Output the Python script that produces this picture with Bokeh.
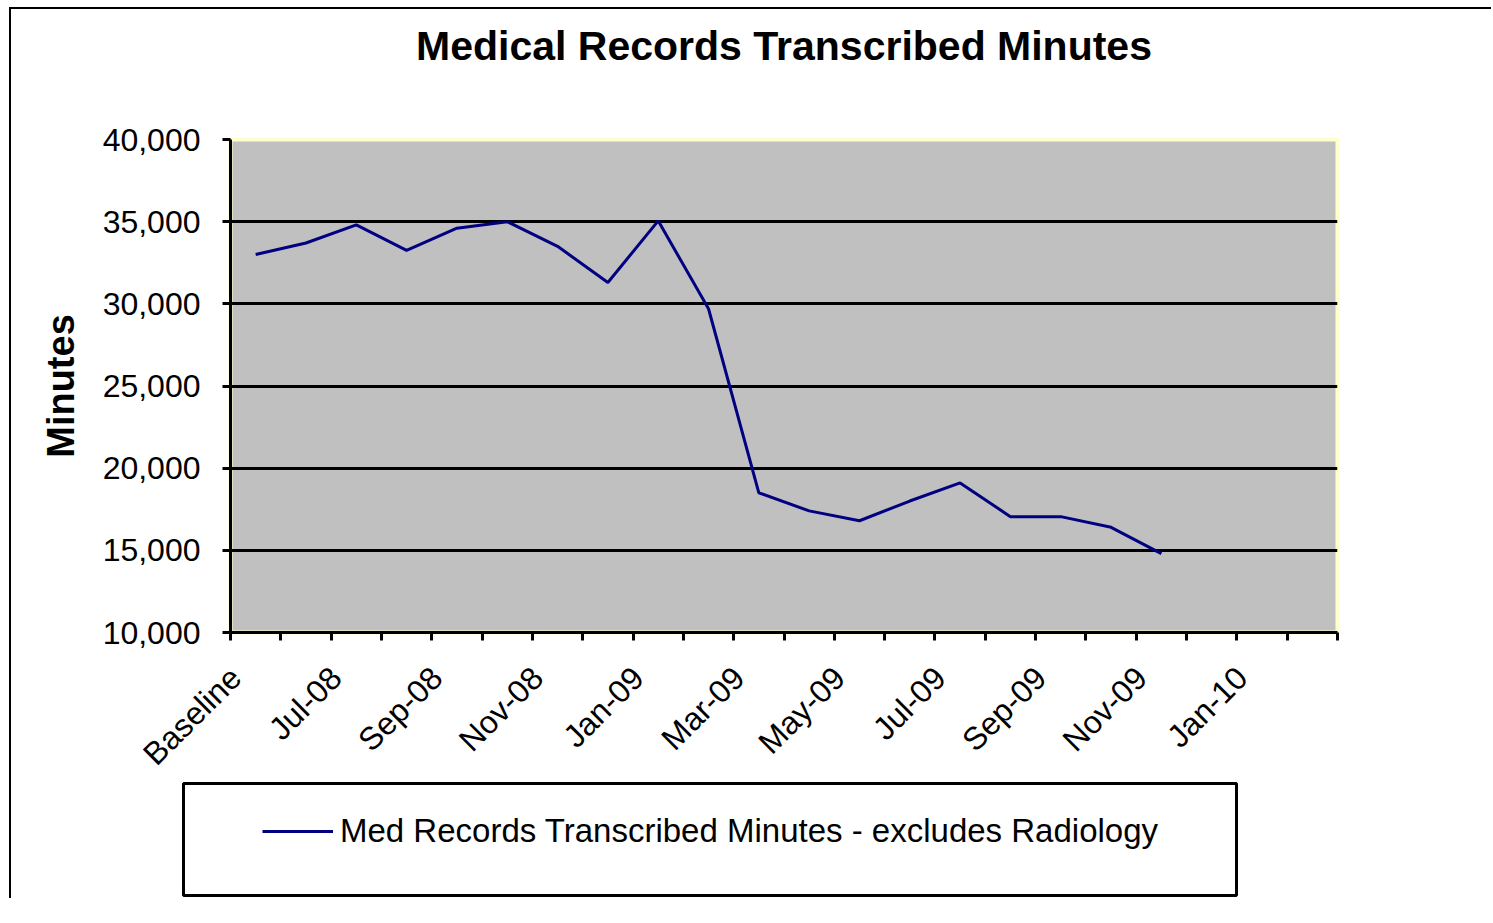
import math
from bokeh.plotting import figure
from bokeh.layouts import column
from bokeh.models import (Range1d, FixedTicker, Legend, LegendItem, NumeralTickFormatter,
                          LinearAxis, ColumnDataSource)
from bokeh.embed import file_html
from bokeh.resources import INLINE

# ---------------- data ----------------
categories = ["Baseline", "Jun-08", "Jul-08", "Aug-08", "Sep-08", "Oct-08", "Nov-08",
              "Dec-08", "Jan-09", "Feb-09", "Mar-09", "Apr-09", "May-09", "Jun-09",
              "Jul-09", "Aug-09", "Sep-09", "Oct-09", "Nov-09", "Dec-09", "Jan-10",
              "Feb-10"]
minutes = [33000, 33700, 34800, 33250, 34600, 35000, 33500, 31300, 35050, 29700,
           18500, 17400, 16800, 18000, 19100, 17050, 17050, 16400, 14800]
y_ticks = [10000, 15000, 20000, 25000, 30000, 35000, 40000]
title_text = "Medical Records Transcribed Minutes"
series_name = "Med Records Transcribed Minutes - excludes Radiology"
y_title = "Minutes"

FONT = "Liberation Sans"
LINE_COLOR = "#000080"
W, H1, H2 = 1480, 785, 118

src = ColumnDataSource(data=dict(x=list(range(len(minutes))), y=minutes))

# ---------------- main chart ----------------
p = figure(width=W, height=H1, output_backend="svg", toolbar_location=None,
           x_range=Range1d(-0.5, len(categories) - 0.5),
           y_range=Range1d(y_ticks[0], y_ticks[-1]),
           min_border_left=219, min_border_right=W - 1326,
           min_border_top=130, min_border_bottom=H1 - 623,
           background_fill_color="#C0C0C0", border_fill_color="white",
           frame_align=False)

p.outline_line_color = "#FFFFCC"
p.outline_line_width = 4

# title
p.title.text = title_text
p.title.align = "center"
p.title.vertical_align = "top"
p.title.text_font = FONT
p.title.text_font_size = "41px"
p.title.text_font_style = "bold"
p.title.text_color = "black"
p.title.standoff = 14

# grids
p.xgrid.visible = False
p.ygrid.ticker = FixedTicker(ticks=y_ticks[1:-1])
p.ygrid.grid_line_color = "black"
p.ygrid.grid_line_width = 3

# y axis
ya = p.left[0]
ya.ticker = FixedTicker(ticks=y_ticks)
ya.formatter = NumeralTickFormatter(format="0,0")
ya.major_label_text_font = FONT
ya.major_label_text_font_size = "32px"
ya.major_label_text_color = "black"
ya.major_tick_out = 8
ya.major_tick_in = 0
ya.major_tick_line_width = 3
ya.minor_tick_line_color = None
ya.axis_line_width = 3
ya.major_label_standoff = 22
ya.axis_label = y_title
ya.axis_label_text_font = FONT
ya.axis_label_text_font_size = "38px"
ya.axis_label_text_font_style = "bold"
ya.axis_label_text_color = "black"
ya.axis_label_standoff = 18

# x axis: categories at integer index positions, tick marks at boundaries;
# rotated labels anchored a little left of the category centre (Excel style)
xa = p.below[0]
label_idx = list(range(0, len(categories), 2))
label_pos = [i - 0.4 for i in label_idx]
xa.ticker = FixedTicker(ticks=label_pos,
                        minor_ticks=[i - 0.5 for i in range(len(categories) + 1)])
xa.major_label_overrides = {pos: categories[i] for pos, i in zip(label_pos, label_idx)}
xa.major_label_orientation = math.pi / 4
xa.major_label_text_font = FONT
xa.major_label_text_font_size = "32px"
xa.major_label_text_color = "black"
xa.major_tick_out = 0
xa.major_tick_in = 0
xa.minor_tick_out = 8
xa.minor_tick_in = 0
xa.minor_tick_line_width = 3
xa.minor_tick_line_color = "black"
xa.axis_line_width = 3
xa.major_label_standoff = 32

# empty spacer between title and plot area (an invisible, label-less axis)
spacer = LinearAxis(ticker=FixedTicker(ticks=[0]), major_tick_out=62, major_tick_in=0,
                    minor_tick_out=0, minor_tick_in=0,
                    axis_line_color=None, major_tick_line_color=None,
                    minor_tick_line_color=None, major_label_overrides={0: ""},
                    major_label_text_font_size="0px", major_label_standoff=0)
p.add_layout(spacer, "above")

# series
r = p.line("x", "y", source=src, line_color=LINE_COLOR, line_width=3)

# ---------------- legend box (its frame is the legend border) ----------------
p2 = figure(width=W, height=H2, output_backend="svg", toolbar_location=None,
            x_range=Range1d(0, 1), y_range=Range1d(0, 1),
            x_axis_type=None, y_axis_type=None,
            min_border_left=172, min_border_right=W - 1225,
            min_border_top=3, min_border_bottom=3,
            background_fill_color="white", border_fill_alpha=0,
            frame_align=False)
p2.outline_line_color = "black"
p2.outline_line_width = 3
p2.styles = {"margin-top": "-14px"}
# legend proxy of the same series (its data lie outside this box's ranges)
r2 = p2.line("x", "y", source=src, line_color=LINE_COLOR, line_width=3)

legend = Legend(items=[LegendItem(label=series_name, renderers=[r2])],
                location=(79, 44), padding=0, margin=0, spacing=0,
                border_line_color=None, background_fill_alpha=0,
                glyph_width=71, glyph_height=20, label_standoff=7,
                label_text_font=FONT, label_text_font_size="33px",
                label_text_color="black", label_height=40)
p2.add_layout(legend)

layout = column(p, p2, spacing=0,
                styles={"margin-left": "9px", "margin-top": "7px",
                        "border-left": "2px solid black",
                        "border-top": "2px solid black"})

open("out.html", "w").write(file_html(layout, INLINE))
